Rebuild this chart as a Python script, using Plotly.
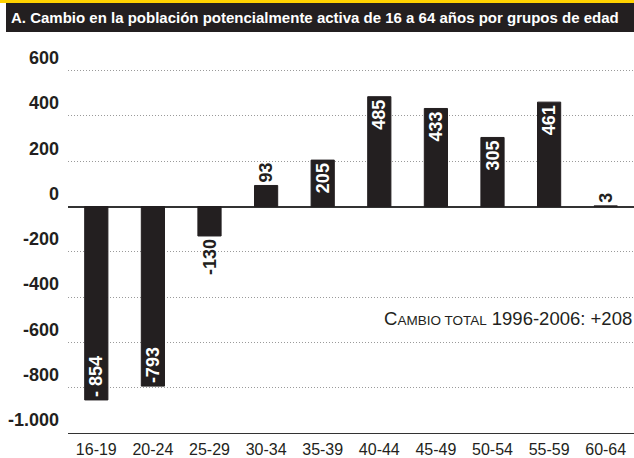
import plotly.graph_objects as go

categories = ["16-19", "20-24", "25-29", "30-34", "35-39", "40-44", "45-49", "50-54", "55-59", "60-64"]
values = [-854, -793, -130, 93, 205, 485, 433, 305, 461, 3]
value_labels = ["- 854", "-793", "-130", "93", "205", "485", "433", "305", "461", "3"]
label_positions = ["inside", "inside", "outside", "outside", "inside", "inside", "inside", "inside", "inside", "outside"]
ytick_vals = [-1000, -800, -600, -400, -200, 0, 200, 400, 600]
ytick_text = ["-1.000", "-800", "-600", "-400", "-200", "0", "200", "400", "600"]
title_text = "A. Cambio en la población potencialmente activa de 16 a 64 años por grupos de edad"
note_text = "C<span style='font-size:13.5px'>AMBIO TOTAL</span> 1996-2006: +208"

FONT = "Liberation Sans, Arial, Helvetica, sans-serif"
INK = "#231f20"

W, H = 634, 458
L, R, T, B = 68, 0, 48, 25
pw, ph = W - L - R, H - T - B

def px_x(x):
    return (x - L) / pw

def px_y(y):
    return (H - B - y) / ph

fig = go.Figure()
fig.add_trace(go.Bar(
    x=categories, y=values,
    marker=dict(color=INK, line=dict(width=1, color=INK)),
    text=value_labels, textposition=label_positions,
    textangle=-90, insidetextanchor="end", constraintext="none",
    cliponaxis=False,
    textfont=dict(family=FONT, size=18, weight=700),
    insidetextfont=dict(family=FONT, size=18, color="white", weight=700),
    outsidetextfont=dict(family=FONT, size=18, color=INK, weight=700),
    hoverinfo="skip",
))

fig.update_layout(
    width=W, height=H,
    margin=dict(l=L, r=R, t=T, b=B, pad=0),
    paper_bgcolor="white", plot_bgcolor="white",
    bargap=0.59, showlegend=False,
    font=dict(family=FONT, color=INK),
    xaxis=dict(
        type="category", showgrid=False, zeroline=False, automargin=False,
        showline=True, linecolor="#333333", linewidth=1.3,
        ticks="", tickfont=dict(family=FONT, size=16, color=INK),
        ticklabelstandoff=2,
    ),
    yaxis=dict(
        range=[-1000, 700], tickvals=ytick_vals, ticktext=ytick_text,
        automargin=False,
        showgrid=True, gridcolor="#9a9a9a", gridwidth=1, griddash="1px,2px",
        zeroline=True, zerolinecolor="#333333", zerolinewidth=1.5,
        showline=False, ticks="",
        tickfont=dict(family=FONT, size=18, color=INK, weight=700),
        ticklabelshift=-13, ticklabelstandoff=8,
    ),
    shapes=[
        dict(type="rect", xref="paper", yref="paper",
             x0=px_x(0), x1=px_x(W), y0=px_y(3), y1=px_y(0),
             fillcolor="#ffd200", line=dict(width=0), layer="above"),
        dict(type="rect", xref="paper", yref="paper",
             x0=px_x(6), x1=px_x(W), y0=px_y(32), y1=px_y(3),
             fillcolor=INK, line=dict(width=0), layer="above"),
    ],
    annotations=[
        dict(text=title_text, xref="paper", yref="paper",
             x=px_x(9), y=px_y(17), xanchor="left", yanchor="middle",
             showarrow=False,
             font=dict(family=FONT, size=15, color="white", weight=700)),
        dict(text=note_text, xref="paper", yref="paper",
             x=px_x(382), y=px_y(318), xanchor="left", yanchor="middle",
             showarrow=False,
             font=dict(family=FONT, size=18.5, color=INK)),
    ],
)

fig.write_html(
    "out.html",
    config={"displayModeBar": False},
    post_script="document.body.style.margin='0';document.body.style.overflow='hidden';",
)
